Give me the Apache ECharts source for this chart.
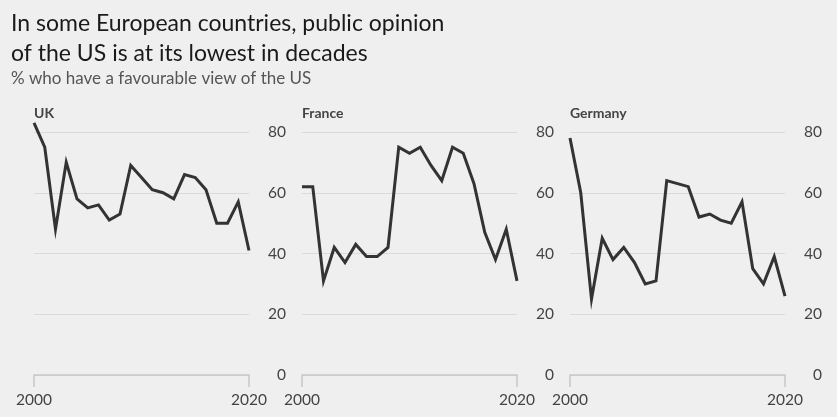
<!DOCTYPE html>
<html><head><meta charset="utf-8">
<script src="https://cdn.jsdelivr.net/npm/echarts@6/dist/echarts.min.js"></script>
<style>html,body{margin:0;padding:0;background:#efefef}#c{width:837px;height:417px}</style>
</head><body><div id="c"></div><script>
const years = [2000,2001,2002,2003,2004,2005,2006,2007,2008,2009,2010,2011,2012,2013,2014,2015,2016,2017,2018,2019,2020];
const countries = ['UK','France','Germany'];
const uk      = [83,75,48,70,58,55,56,51,53,69,65,61,60,58,66,65,61,50,50,57,41];
const france  = [62,62,31,42,37,43,39,39,42,75,73,75,69,64,75,73,63,47,38,48,31];
const germany = [78,60,25,45,38,42,37,30,31,64,63,62,52,53,51,50,57,35,30,39,26];
const yMin = 0, yMax = 80, yStep = 20;
const xMin = 2000, xMax = 2020, xStep = 20;
const titleText = 'In some European countries, public opinion\nof the US is at its lowest in decades';
const subtitleText = '% who have a favourable view of the US';

const seriesData = [uk, france, germany];
const gridLefts = [34, 302, 570];
const FONT = 'Lato';

const grids = [], xAxes = [], yAxes = [], series = [], titles = [];
titles.push({text: titleText, left: 11, top: 9, padding: 0, textStyle: {fontFamily: FONT, fontSize: 23, fontWeight: 'normal', color: '#1a1a1a', lineHeight: 30}});
titles.push({text: subtitleText, left: 11, top: 70, padding: 0, textStyle: {fontFamily: FONT, fontSize: 17, fontWeight: 'normal', color: '#555'}});
countries.forEach((name, i) => {
  grids.push({left: gridLefts[i], top: 132, width: 215, height: 243, containLabel: false});
  titles.push({text: name, left: gridLefts[i], top: 106, padding: 0, textStyle: {fontFamily: FONT, fontSize: 14, fontWeight: 'bold', color: '#444'}});
  xAxes.push({type: 'value', gridIndex: i, min: xMin, max: xMax, interval: xStep,
    axisLine: {show: true, lineStyle: {color: '#c8c8c8', width: 1.5}},
    axisTick: {show: true, length: 12, lineStyle: {color: '#c8c8c8', width: 1.5}},
    splitLine: {show: false},
    axisLabel: {margin: 17, fontFamily: FONT, fontSize: 15.5, color: '#444', formatter: v => String(v)}});
  yAxes.push({type: 'value', gridIndex: i, position: 'right', min: yMin, max: yMax, interval: yStep,
    axisLine: {show: false}, axisTick: {show: false},
    splitLine: {show: true, lineStyle: {color: '#dadada', width: 1}},
    axisLabel: {margin: 37, align: 'right', fontFamily: FONT, fontSize: 15.5, color: '#444'}});
  series.push({type: 'line', xAxisIndex: i, yAxisIndex: i, symbol: 'none', clip: false,
    lineStyle: {color: '#333', width: 3, join: 'miter'},
    data: years.map((y, k) => [y, seriesData[i][k]])});
});

const chart = echarts.init(document.getElementById('c'), null, {renderer: 'canvas'});
chart.setOption({backgroundColor: '#efefef', animation: false, title: titles, grid: grids, xAxis: xAxes, yAxis: yAxes, series});
</script></body></html>
